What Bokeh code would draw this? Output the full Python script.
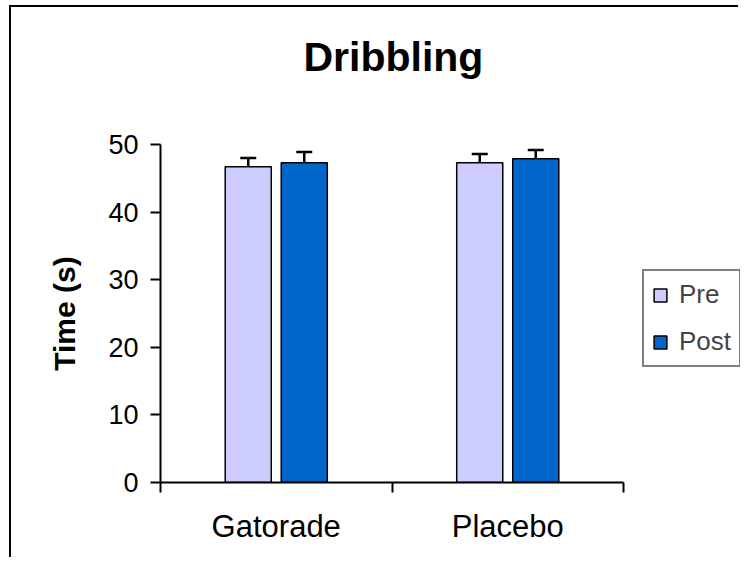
from bokeh.plotting import figure
from bokeh.layouts import column
from bokeh.models import (ColumnDataSource, FixedTicker, Whisker, TeeHead, Legend, LegendItem,
                          Range1d, LinearAxis, Title)
from bokeh.embed import file_html
from bokeh.resources import INLINE

categories = ["Gatorade", "Placebo"]
series = ["Pre", "Post"]
pre = [46.7, 47.3]
post = [47.3, 47.9]
pre_err = [1.3, 1.3]
post_err = [1.6, 1.3]
colors = ["#CCCCFF", "#0066CC"]
y_ticks = [0, 10, 20, 30, 40, 50]
y_max = 50

FONT = "Liberation Sans"

n = len(categories)
x_end = n * 580 / 463  # frame: 580 px wide, 463 px for the categories, the rest holds the legend
p = figure(width=729, height=552, output_backend="svg", toolbar_location=None,
           x_range=Range1d(0, x_end), y_range=Range1d(0, y_max),
           min_border_left=149, min_border_right=0, min_border_top=137, min_border_bottom=77)
p.styles = {"border-left": "2px solid black", "border-top": "2px solid black"}
p.outline_line_color = None
p.grid.visible = False
p.background_fill_color = "white"
p.border_fill_color = "white"
p.title.text = ""

offset = 0.121
width = 0.199
centers = [i + 0.5 for i in range(n)]
renderers = []
for k, (vals, errs, col) in enumerate([(pre, pre_err, colors[0]), (post, post_err, colors[1])]):
    xs = [c + (-offset if k == 0 else offset) for c in centers]
    src = ColumnDataSource(dict(x=xs, top=vals, upper=[v + e for v, e in zip(vals, errs)]))
    r = p.vbar(x="x", top="top", width=width, source=src, fill_color=col,
               line_color="black", line_width=1.5)
    renderers.append(r)
    w = Whisker(source=src, base="x", lower="top", upper="upper", dimension="height",
                line_color="black", line_width=2.5,
                upper_head=TeeHead(size=16, line_color="black", line_width=2.5),
                lower_head=None)
    p.add_layout(w)

# y axis
ya = p.yaxis[0]
ya.ticker = FixedTicker(ticks=y_ticks)
ya.axis_line_width = 2
ya.major_tick_line_width = 2
ya.major_tick_out = 10
ya.major_tick_in = 0
ya.minor_tick_line_color = None
ya.major_label_text_font = FONT
ya.major_label_text_font_size = "27px"
ya.major_label_text_color = "black"
ya.major_label_standoff = 12
ya.axis_label = "Time (s)"
ya.axis_label_text_font = FONT
ya.axis_label_text_font_size = "30px"
ya.axis_label_text_font_style = "bold"
ya.axis_label_text_color = "black"
ya.axis_label_standoff = 24

# x axis
xa = p.xaxis[0]
xa.bounds = (0, n)
xa.ticker = FixedTicker(ticks=centers, minor_ticks=list(range(n + 1)))
xa.major_label_overrides = {c: name for c, name in zip(centers, categories)}
xa.axis_line_width = 2
xa.major_tick_line_color = None
xa.major_tick_out = 0
xa.major_tick_in = 0
xa.minor_tick_line_width = 2
xa.minor_tick_out = 10
xa.minor_tick_in = 0
xa.major_label_text_font = FONT
xa.major_label_text_font_size = "31px"
xa.major_label_text_color = "black"
xa.major_label_standoff = 16

# invisible spacer between the frame and the title
spacer = LinearAxis(ticker=FixedTicker(ticks=[x_end * 0.99]), major_label_overrides={x_end * 0.99: ""},
                    axis_line_color=None,
                    major_tick_line_color=None, minor_tick_line_color=None,
                    major_tick_out=65, major_tick_in=0, minor_tick_out=0, minor_tick_in=0,
                    major_label_standoff=0, major_label_text_font_size="1px",
                    major_label_text_alpha=0)
p.add_layout(spacer, "above")

title = Title(text="Dribbling", text_font=FONT, text_font_size="41px", text_font_style="bold",
              text_color="black", align="left", offset=143, standoff=0)
p.add_layout(title, "above")

legend = Legend(items=[LegendItem(label=s, renderers=[r]) for s, r in zip(series, renderers)],
                location=(482, 115))
legend.border_line_color = "black"
legend.border_line_width = 2
legend.label_text_font = FONT
legend.label_text_font_size = "26px"
legend.glyph_width = 16
legend.glyph_height = 16
legend.label_standoff = 11
legend.spacing = 16
legend.padding = 8
legend.margin = 0
legend.background_fill_color = "white"
p.add_layout(legend)

root = column(p, styles={"padding-left": "9px", "padding-top": "5px"})
open("out.html", "w").write(file_html(root, INLINE))
